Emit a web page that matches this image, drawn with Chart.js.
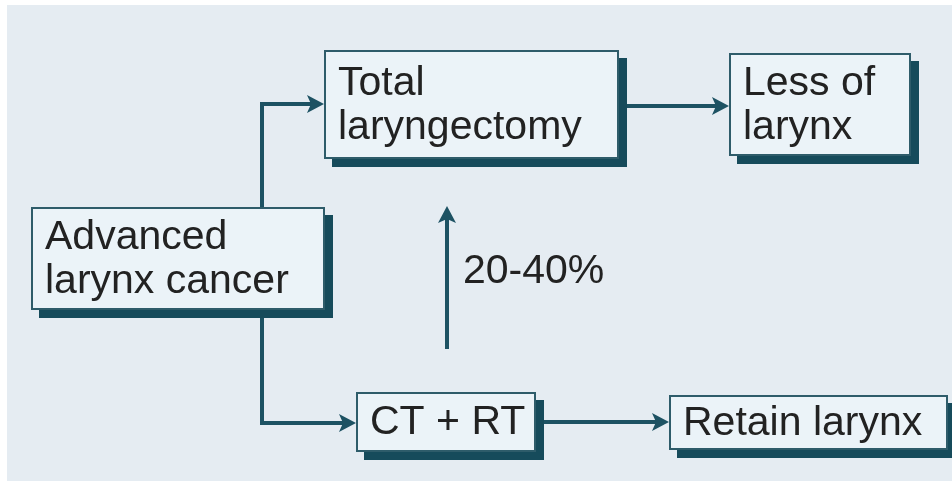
<!DOCTYPE html>
<html>
<head>
<meta charset="utf-8">
<script src="https://cdn.jsdelivr.net/npm/chart.js@4.4.1/dist/chart.umd.min.js"></script>
<style>
  html, body { margin: 0; padding: 0; background: #fff; }
  #wrap { width: 952px; height: 483px; }
</style>
</head>
<body>
<div id="wrap"><canvas id="flow"></canvas></div>
<script>
// Flow diagram: boxes + connectors, all in chart units (x 0..952, y 0..483)
const nodeLabels = [
  ['Advanced', 'larynx cancer'],
  ['Total', 'laryngectomy'],
  ['Less of', 'larynx'],
  ['CT + RT'],
  ['Retain larynx']
]
const nodeLeft   = [31, 324, 729, 356, 669]
const nodeTop    = [207, 50, 53, 392, 395]
const nodeRight  = [325, 619, 911, 536, 948]
const nodeBottom = [310, 159, 156, 452, 450]

// connector paths, last point is the arrow tip
const linkPaths = [
  [[262, 207], [262, 104], [324, 104]],
  [[262, 318], [262, 423], [356, 423]],
  [[626, 106], [729, 106]],
  [[447, 349], [447, 206]],
  [[544, 422], [669, 422]]
]

const edgeLabel = '20-40%'
const edgeLabelPos = [463, 283]

const COLORS = {
  bg: '#e5ecf2',
  boxFill: '#ebf3f8',
  boxLine: '#2e5c6a',
  shadow: '#164b5b',
  arrow: '#1d5263',
  text: '#222222'
}
const FONT = '41px "Liberation Sans", Arial, sans-serif'
const HEAD_LEN = 17
const HEAD_HALF = 9

// shorten each path so the line stops inside the arrow head
function trimmed(path) {
  const pts = path.map(p => ({ x: p[0], y: p[1] }))
  const a = pts[pts.length - 2], b = pts[pts.length - 1]
  const dx = b.x - a.x, dy = b.y - a.y
  const len = Math.hypot(dx, dy)
  pts[pts.length - 1] = { x: b.x - dx / len * (HEAD_LEN - 4), y: b.y - dy / len * (HEAD_LEN - 4) }
  return pts
}

const datasets = linkPaths.map((path, i) => ({
  label: 'link ' + (i + 1),
  data: trimmed(path),
  showLine: true,
  borderColor: COLORS.arrow,
  borderWidth: 4,
  pointRadius: 0,
  borderCapStyle: 'butt',
  borderJoinStyle: 'miter',
  tension: 0
}))

const backdrop = {
  id: 'backdrop',
  beforeDraw(chart) {
    const { ctx, scales: { x, y } } = chart
    ctx.save()
    ctx.fillStyle = '#ffffff'
    ctx.fillRect(0, 0, chart.width, chart.height)
    ctx.fillStyle = COLORS.bg
    ctx.fillRect(x.getPixelForValue(7), y.getPixelForValue(5),
      x.getPixelForValue(952) - x.getPixelForValue(7), y.getPixelForValue(481) - y.getPixelForValue(5))
    ctx.restore()
  }
}

const flowNodes = {
  id: 'flowNodes',
  afterDatasetsDraw(chart) {
    const { ctx, scales: { x, y } } = chart
    ctx.save()

    // arrow heads
    ctx.fillStyle = COLORS.arrow
    linkPaths.forEach(path => {
      const a = path[path.length - 2], b = path[path.length - 1]
      const bx = x.getPixelForValue(b[0]), by = y.getPixelForValue(b[1])
      const ax = x.getPixelForValue(a[0]), ay = y.getPixelForValue(a[1])
      const ang = Math.atan2(by - ay, bx - ax)
      ctx.save()
      ctx.translate(bx, by)
      ctx.rotate(ang)
      ctx.beginPath()
      ctx.moveTo(0, 0)
      ctx.lineTo(-HEAD_LEN, -HEAD_HALF)
      ctx.lineTo(-HEAD_LEN + 4, 0)
      ctx.lineTo(-HEAD_LEN, HEAD_HALF)
      ctx.closePath()
      ctx.fill()
      ctx.restore()
    })

    // boxes with drop shadow
    nodeLabels.forEach((lines, i) => {
      const l = x.getPixelForValue(nodeLeft[i])
      const r = x.getPixelForValue(nodeRight[i])
      const t = y.getPixelForValue(nodeTop[i])
      const b = y.getPixelForValue(nodeBottom[i])
      const w = r - l, h = b - t

      ctx.fillStyle = COLORS.shadow
      ctx.fillRect(l + 8, t + 8, w, h)
      ctx.fillStyle = COLORS.boxFill
      ctx.fillRect(l, t, w, h)
      ctx.strokeStyle = COLORS.boxLine
      ctx.lineWidth = 2
      ctx.strokeRect(l + 1, t + 1, w - 2, h - 2)

      ctx.fillStyle = COLORS.text
      ctx.font = FONT
      ctx.textBaseline = 'alphabetic'
      ctx.textAlign = 'left'
      const gap = 44
      const cy = t + h / 2 - (lines.length - 1) * gap / 2
      lines.forEach((txt, k) => {
        ctx.fillText(txt, l + 14, cy + k * gap + 12)
      })
    })

    // label on the vertical arrow
    ctx.fillStyle = COLORS.text
    ctx.font = FONT
    ctx.fillText(edgeLabel, x.getPixelForValue(edgeLabelPos[0]), y.getPixelForValue(edgeLabelPos[1]))
    ctx.restore()
  }
}

new Chart(document.getElementById('flow'), {
  type: 'scatter',
  data: { datasets },
  options: {
    responsive: true,
    maintainAspectRatio: false,
    animation: false,
    layout: { padding: 0 },
    plugins: { legend: { display: false }, tooltip: { enabled: false } },
    scales: {
      x: { type: 'linear', min: 0, max: 952, display: false },
      y: { type: 'linear', min: 0, max: 483, reverse: true, display: false }
    }
  },
  plugins: [backdrop, flowNodes]
})
</script>
</body>
</html>
